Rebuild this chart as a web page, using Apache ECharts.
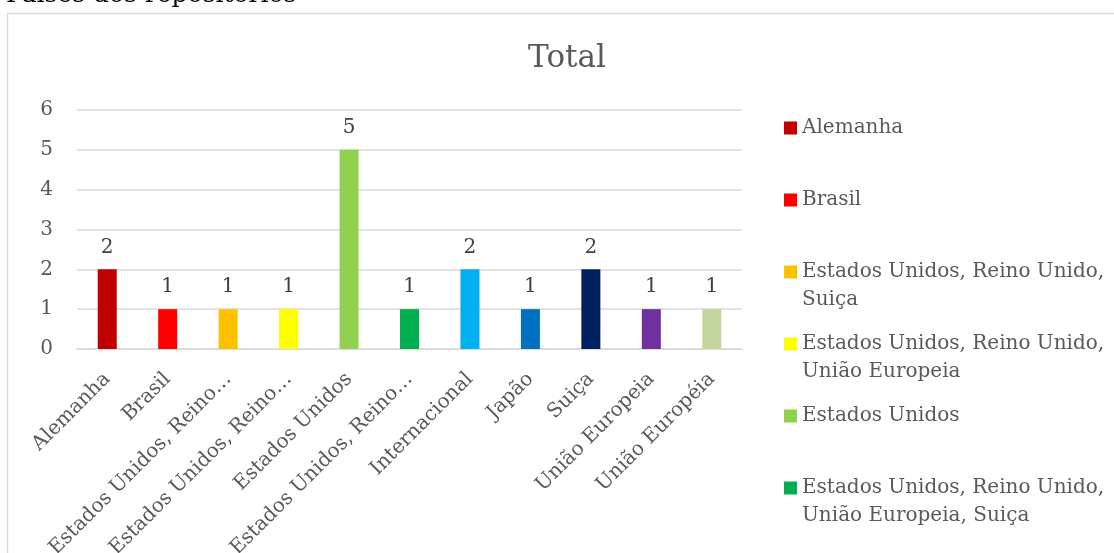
<!DOCTYPE html>
<html>
<head>
<meta charset="utf-8">
<script src="https://cdn.jsdelivr.net/npm/echarts@6/dist/echarts.min.js"></script>
<style>
html,body{margin:0;padding:0;background:#fff;}
#c{width:1114px;height:553px;}
</style>
</head>
<body>
<div id="c"></div>
<script>
const pageHeading = 'Países dos repositórios';
const chartTitle = 'Total';
const categories = [
  'Alemanha',
  'Brasil',
  'Estados Unidos, Reino Unido, Suiça',
  'Estados Unidos, Reino Unido, União Europeia',
  'Estados Unidos',
  'Estados Unidos, Reino Unido, União Europeia, Suiça',
  'Internacional',
  'Japão',
  'Suiça',
  'União Europeia',
  'União Européia'
];
const values = [2, 1, 1, 1, 5, 1, 2, 1, 2, 1, 1];
const colors = ['#C00000', '#FF0000', '#FFC000', '#FFFF00', '#92D050', '#00B050',
                '#00B0F0', '#0070C0', '#002060', '#7030A0', '#C3D69B'];
// the legend box only has room for the first entries (the rest are cut off)
const legendVisibleCount = 6;

const FONT = 'DejaVu Serif';
const GRAY = '#595959';

const chart = echarts.init(document.getElementById('c'), null, {renderer: 'canvas'});

const series = categories.map((name, i) => ({
  name: name,
  type: 'bar',
  stack: 'total',
  barWidth: 19,
  itemStyle: {color: colors[i]},
  label: {
    show: true, position: 'top', distance: 12,
    color: '#404040', fontSize: 20, fontFamily: FONT
  },
  emphasis: {disabled: true},
  data: values.map((v, j) => (j === i ? v : '-'))
}));

// legend text: blank line + wrapped name (always 2 content lines) so the
// first line sits level with the colour square
function legendText(name) {
  const parts = name.replace(/^(Estados Unidos, Reino Unido,) /, '$1\n').split('\n');
  return ' \n' + parts[0] + '\n' + (parts[1] || ' ');
}

chart.setOption({
  animation: false,
  backgroundColor: '#fff',
  textStyle: {fontFamily: FONT},
  title: {
    text: chartTitle,
    left: 567, top: 43, textAlign: 'center', padding: 0,
    textStyle: {fontFamily: FONT, fontSize: 31, fontWeight: 'normal', color: GRAY}
  },
  graphic: [
    {
      type: 'rect', silent: true, z: -1,
      shape: {x: 7.5, y: 13.5, width: 1200, height: 700},
      style: {fill: '#fff', stroke: '#d9d9d9', lineWidth: 1.5}
    },
    {
      type: 'text', silent: true,
      x: 6, y: -5,
      style: {text: pageHeading, font: '25px "DejaVu Serif"', fill: '#000', verticalAlign: 'middle'}
    }
  ],
  legend: {
    orient: 'vertical',
    left: 784, top: 86, height: 3000,
    padding: 0,
    itemWidth: 13, itemHeight: 13, itemGap: -12,
    icon: 'rect',
    selectedMode: false,
    data: categories.slice(0, legendVisibleCount),
    formatter: legendText,
    textStyle: {fontFamily: FONT, fontSize: 20, color: GRAY, lineHeight: 28}
  },
  grid: {
    left: 77, right: 372, top: 110, bottom: 204,
    containLabel: false, outerBoundsMode: 'none'
  },
  xAxis: {
    type: 'category',
    data: categories,
    axisLine: {lineStyle: {color: '#d9d9d9', width: 1.5}},
    axisTick: {show: false},
    axisLabel: {
      rotate: 45, interval: 0, margin: 27,
      color: GRAY, fontSize: 20, fontFamily: FONT,
      formatter: (v) => (v.length > 21 ? v.slice(0, 21) + '…' : v)
    }
  },
  yAxis: {
    type: 'value', min: 0, max: 6, interval: 1,
    axisLine: {show: false}, axisTick: {show: false},
    splitLine: {lineStyle: {color: '#d9d9d9', width: 1.5}},
    axisLabel: {margin: 24, color: GRAY, fontSize: 20, fontFamily: FONT}
  },
  series: series
});
</script>
</body>
</html>
